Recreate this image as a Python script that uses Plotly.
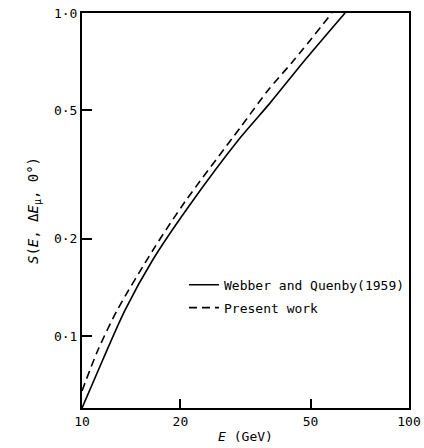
import plotly.graph_objects as go

# Data (log-log)
E_wq = [10.0, 11.57, 13.54, 16.45, 21.25, 30.42, 37.57, 48.08, 63.74]
S_wq = [0.0598, 0.0843, 0.1203, 0.1719, 0.2526, 0.410, 0.526, 0.715, 1.0]

E_pw = [10.0, 11.19, 12.82, 16.49, 20.65, 30.42, 37.12, 44.5, 58.14]
S_pw = [0.0676, 0.0905, 0.1203, 0.1846, 0.2604, 0.4405, 0.5777, 0.715, 1.0]

x_ticks = [10, 20, 50, 100]
x_labels = ["10", "20", "50", "100"]
y_ticks = [0.1, 0.2, 0.5, 1.0]
y_labels = ["0·1", "0·2", "0·5", "1·0"]

font_family = "DejaVu Sans Mono"

fig = go.Figure()
fig.add_trace(go.Scatter(x=E_wq, y=S_wq, mode="lines", name="Webber and Quenby(1959)",
                         legendgroup="a",
                         line=dict(color="black", width=1.6, shape="spline", smoothing=0.8)))
fig.add_trace(go.Scatter(x=E_pw, y=S_pw, mode="lines", name="Present work",
                         legendgroup="b",
                         line=dict(color="black", width=1.6, dash="8px,5px", shape="spline", smoothing=0.8)))

fig.update_layout(
    width=424, height=448,
    margin=dict(l=82, r=15, t=13, b=40),
    paper_bgcolor="white", plot_bgcolor="white",
    font=dict(family=font_family, color="black", size=13),
    showlegend=True,
    legend=dict(x=0.312, y=0.35, xanchor="left", yanchor="top",
                bgcolor="rgba(0,0,0,0)", font=dict(size=13, family=font_family),
                traceorder="grouped", tracegroupgap=3, itemwidth=30),
)
fig.update_xaxes(type="log", range=[1, 2], tickvals=x_ticks, ticktext=x_labels,
                 ticks="inside", ticklen=9, tickwidth=1.5, tickcolor="black",
                 showline=True, linecolor="black", linewidth=2, mirror=True,
                 showgrid=False, zeroline=False, automargin=False,
                 title=dict(text="<i>E</i> (GeV)", standoff=4, font=dict(size=13)))
fig.update_yaxes(type="log", range=[-1.2229, 0], tickvals=y_ticks, ticktext=y_labels,
                 ticks="inside", ticklen=10, tickwidth=1.5, tickcolor="black",
                 showline=True, linecolor="black", linewidth=2, mirror=True,
                 showgrid=False, zeroline=False, automargin=False,
                 title=dict(text="<i>S</i>(<i>E</i>, Δ<i>E</i><sub>μ</sub>, 0°)", standoff=12, font=dict(size=14)))

fig.write_html("out.html")
